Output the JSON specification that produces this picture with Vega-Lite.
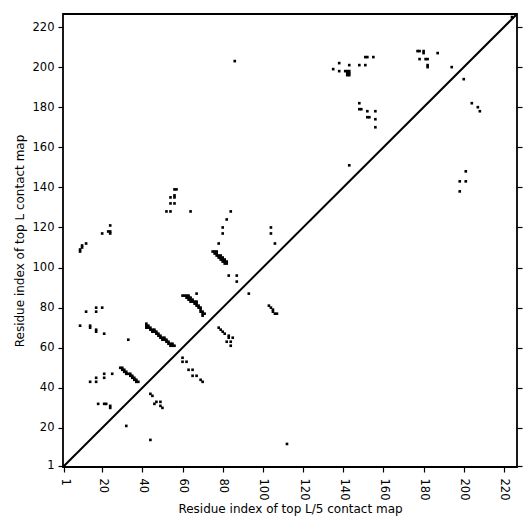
{
  "$schema": "https://vega.github.io/schema/vega-lite/v6.json",
  "width": 454,
  "height": 453,
  "autosize": {"type": "none"},
  "padding": {"left": 63, "top": 14, "right": 14, "bottom": 64},
  "background": "white",
  "config": {
    "font": "DejaVu Sans",
    "view": {"stroke": "black", "strokeWidth": 1.8},
    "axis": {"grid": false, "domain": false, "tickColor": "black", "tickWidth": 1.2, "tickSize": 5, "labelColor": "black", "labelFontSize": 11.5, "titleColor": "black", "titleFontSize": 12, "titleFontWeight": "normal", "labelFont": "DejaVu Sans", "titleFont": "DejaVu Sans"}
  },
  "datasets": {
    "diag": [{"x": 0.5, "y": 0.5}, {"x": 226.5, "y": 226.5}],
    "contacts": [
      {"x":9,"y":108},{"x":9,"y":109},{"x":10,"y":110},{"x":10,"y":111},{"x":12,"y":112},
      {"x":20,"y":117},{"x":23,"y":118},{"x":24,"y":118},{"x":24,"y":117},{"x":24,"y":121},
      {"x":52,"y":128},{"x":54,"y":128},{"x":54,"y":132},{"x":56,"y":132},{"x":54,"y":135},{"x":56,"y":135},{"x":56,"y":136},{"x":56,"y":139},{"x":57,"y":139},{"x":64,"y":128},
      {"x":84,"y":128},{"x":82,"y":124},{"x":80,"y":120},{"x":80,"y":117},{"x":78,"y":112},
      {"x":104,"y":120},{"x":104,"y":117},{"x":106,"y":112},{"x":86,"y":203},
      {"x":75,"y":108},{"x":76,"y":108},{"x":77,"y":108},{"x":76,"y":107},{"x":77,"y":107},{"x":77,"y":106},{"x":78,"y":106},{"x":78,"y":105},{"x":79,"y":106},{"x":79,"y":105},{"x":79,"y":104},{"x":80,"y":105},{"x":80,"y":104},{"x":80,"y":103},{"x":81,"y":104},{"x":81,"y":103},{"x":81,"y":102},{"x":82,"y":103},{"x":82,"y":102},
      {"x":83,"y":96},{"x":87,"y":96},{"x":87,"y":93},{"x":93,"y":87},{"x":67,"y":87},
      {"x":60,"y":86},{"x":61,"y":86},{"x":62,"y":86},{"x":62,"y":85},{"x":63,"y":86},{"x":63,"y":85},{"x":63,"y":84},{"x":64,"y":85},{"x":64,"y":84},{"x":64,"y":83},{"x":65,"y":84},{"x":65,"y":83},{"x":66,"y":83},{"x":66,"y":82},{"x":67,"y":83},{"x":67,"y":82},{"x":67,"y":81},{"x":68,"y":81},{"x":68,"y":80},{"x":69,"y":80},{"x":69,"y":79},{"x":69,"y":78},{"x":70,"y":78},{"x":70,"y":77},{"x":70,"y":76},{"x":71,"y":77},
      {"x":42,"y":72},{"x":42,"y":71},{"x":42,"y":70},{"x":43,"y":71},{"x":43,"y":70},{"x":44,"y":70},{"x":44,"y":69},{"x":45,"y":69},{"x":45,"y":68},{"x":46,"y":69},{"x":46,"y":68},{"x":47,"y":68},{"x":47,"y":67},{"x":48,"y":67},{"x":48,"y":66},{"x":49,"y":66},{"x":49,"y":65},{"x":50,"y":65},{"x":50,"y":64},{"x":51,"y":65},{"x":51,"y":64},{"x":52,"y":64},{"x":52,"y":63},{"x":53,"y":63},{"x":53,"y":62},{"x":54,"y":62},{"x":54,"y":61},{"x":55,"y":62},{"x":55,"y":61},{"x":56,"y":61},
      {"x":33,"y":64},{"x":9,"y":71},{"x":14,"y":71},{"x":14,"y":70},{"x":17,"y":69},{"x":17,"y":68},{"x":21,"y":67},{"x":12,"y":78},{"x":17,"y":78},{"x":17,"y":80},{"x":20,"y":80},
      {"x":14,"y":43},{"x":17,"y":43},{"x":17,"y":45},{"x":21,"y":45},{"x":21,"y":47},{"x":25,"y":47},
      {"x":29,"y":50},{"x":30,"y":50},{"x":30,"y":49},{"x":31,"y":49},{"x":31,"y":48},{"x":32,"y":48},{"x":32,"y":47},{"x":33,"y":47},{"x":34,"y":47},{"x":34,"y":46},{"x":35,"y":46},{"x":35,"y":45},{"x":36,"y":45},{"x":36,"y":44},{"x":37,"y":44},{"x":37,"y":43},{"x":38,"y":43},
      {"x":18,"y":32},{"x":21,"y":32},{"x":22,"y":32},{"x":24,"y":31},{"x":24,"y":30},{"x":32,"y":21},{"x":44,"y":14},
      {"x":44,"y":37},{"x":45,"y":36},{"x":46,"y":32},{"x":47,"y":33},{"x":49,"y":33},{"x":49,"y":31},{"x":50,"y":30},
      {"x":60,"y":55},{"x":60,"y":53},{"x":62,"y":53},{"x":63,"y":49},{"x":65,"y":49},{"x":65,"y":46},{"x":67,"y":46},{"x":69,"y":44},{"x":70,"y":43},
      {"x":78,"y":70},{"x":79,"y":69},{"x":80,"y":68},{"x":81,"y":67},{"x":83,"y":66},{"x":83,"y":65},{"x":85,"y":65},{"x":82,"y":63},{"x":84,"y":63},{"x":84,"y":61},
      {"x":103,"y":81},{"x":104,"y":80},{"x":105,"y":79},{"x":105,"y":78},{"x":106,"y":77},{"x":107,"y":77},
      {"x":112,"y":12},
      {"x":135,"y":199},{"x":138,"y":202},{"x":138,"y":198},{"x":141,"y":198},{"x":142,"y":198},{"x":143,"y":198},{"x":142,"y":197},{"x":143,"y":197},{"x":142,"y":196},{"x":143,"y":196},{"x":143,"y":201},{"x":148,"y":201},{"x":151,"y":201},{"x":151,"y":205},{"x":152,"y":205},{"x":155,"y":205},
      {"x":148,"y":182},{"x":148,"y":179},{"x":149,"y":179},{"x":152,"y":178},{"x":152,"y":175},{"x":153,"y":175},{"x":156,"y":178},{"x":156,"y":174},{"x":156,"y":170},
      {"x":177,"y":208},{"x":178,"y":208},{"x":178,"y":204},{"x":180,"y":208},{"x":180,"y":207},{"x":181,"y":204},{"x":182,"y":204},{"x":182,"y":201},{"x":182,"y":200},{"x":187,"y":207},{"x":194,"y":200},{"x":200,"y":194},{"x":204,"y":182},{"x":207,"y":180},{"x":208,"y":178},
      {"x":201,"y":148},{"x":198,"y":143},{"x":201,"y":143},{"x":198,"y":138},{"x":143,"y":151},{"x":224,"y":225}
    ]
  },
  "layer": [
    {
      "data": {"name": "diag"},
      "mark": {"type": "line", "color": "black", "strokeWidth": 2, "clip": true},
      "encoding": {
        "x": {"field": "x", "type": "quantitative", "scale": {"domain": [0.5, 226.5], "nice": false, "zero": false},
              "axis": {"title": "Residue index of top L/5 contact map", "values": [1,20,40,60,80,100,120,140,160,180,200,220], "labelAngle": 90, "labelPadding": 6, "titlePadding": 4, "labelOverlap": false}},
        "y": {"field": "y", "type": "quantitative", "scale": {"domain": [0.5, 226.5], "nice": false, "zero": false},
              "axis": {"orient": "left", "title": "Residue index of top L contact map", "values": [1,20,40,60,80,100,120,140,160,180,200,220], "labelPadding": 4, "titlePadding": 6, "labelOverlap": false}}
      }
    },
    {
      "data": {"name": "contacts"},
      "mark": {"type": "square", "color": "black", "filled": true, "size": 7, "opacity": 1},
      "encoding": {
        "x": {"field": "x", "type": "quantitative"},
        "y": {"field": "y", "type": "quantitative",
              "axis": {"orient": "right", "title": null, "labels": false, "values": [1,20,40,60,80,100,120,140,160,180,200,220]}}
      }
    }
  ],
  "resolve": {"axis": {"y": "independent"}}
}
